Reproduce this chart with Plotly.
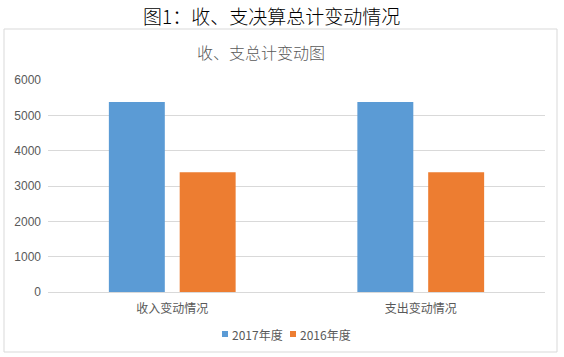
import plotly.graph_objects as go

categories = ["收入变动情况", "支出变动情况"]
series_names = ["2017年度", "2016年度"]
values_2017 = [5380, 5380]
values_2016 = [3390, 3390]
colors = ["#5B9BD5", "#ED7D31"]
y_ticks = [0, 1000, 2000, 3000, 4000, 5000, 6000]

fig = go.Figure()
for name, vals, col in zip(series_names, [values_2017, values_2016], colors):
    fig.add_trace(go.Bar(x=categories, y=vals, name=name, marker_color=col,
                         marker_line_width=0, showlegend=False))

W, H = 564, 357
PW, PH = W - 48 - 19, 292 - 80


def px(x):
    return (x - 48) / PW


def py(y):
    return (292 - y) / PH


shapes = [dict(type="rect", xref="paper", yref="paper",
               x0=px(4), x1=px(557), y0=py(352), y1=py(29),
               line=dict(color="#d9d9d9", width=1), layer="below")]
annotations = [
    dict(text="图1：收、支决算总计变动情况", xref="paper", yref="paper",
         x=px(271), y=py(15), showarrow=False, xanchor="center", yanchor="middle",
         font=dict(size=19, color="#000000", family="Noto Sans CJK SC", weight=300)),
    dict(text="收、支总计变动图", xref="paper", yref="paper",
         x=px(261), y=py(52), showarrow=False, xanchor="center", yanchor="middle",
         font=dict(size=16, color="#595959", family="Noto Sans CJK SC", weight=300)),
]
# custom compact legend
legend_x = [222, 290]
for lx, name, col in zip(legend_x, series_names, colors):
    shapes.append(dict(type="rect", xref="paper", yref="paper",
                       x0=px(lx), x1=px(lx + 6), y0=py(337), y1=py(331),
                       fillcolor=col, line=dict(width=0)))
    annotations.append(dict(text=name, xref="paper", yref="paper",
                            x=px(lx + 8), y=py(334), showarrow=False,
                            xanchor="left", yanchor="middle",
                            font=dict(size=12, color="#595959")))

fig.update_layout(
    width=W, height=H,
    margin=dict(l=48, r=19, t=80, b=65, autoexpand=False),
    paper_bgcolor="white", plot_bgcolor="white",
    font=dict(family="Noto Sans CJK SC, sans-serif", color="#595959", size=11),
    barmode="group", bargap=0.43, bargroupgap=0.21,
    showlegend=False,
    xaxis=dict(showgrid=False, showline=True, linecolor="#d9d9d9", linewidth=1,
               ticks="", ticklabelstandoff=6,
               tickfont=dict(size=12, color="#595959")),
    yaxis=dict(range=[0, 6000], tickvals=y_ticks, showgrid=True, gridcolor="#d9d9d9",
               gridwidth=1, zeroline=False, showline=False, ticks="",
               ticklabelstandoff=6,
               tickfont=dict(family="Liberation Sans, Arial", size=12, color="#595959")),
    shapes=shapes,
    annotations=annotations,
)

fig.write_html("out.html")
